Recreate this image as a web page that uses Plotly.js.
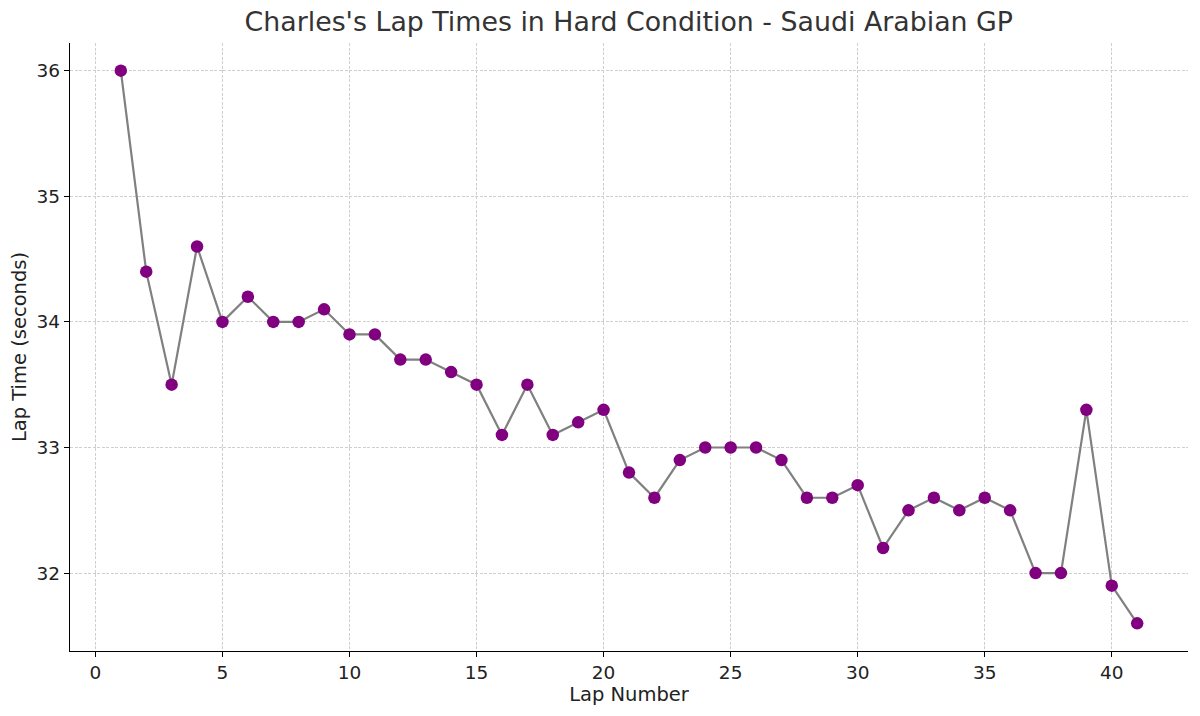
<!DOCTYPE html>
<html>
<head>
<meta charset="utf-8">
<script src="https://cdn.plot.ly/plotly-3.0.1.min.js"></script>
<style>html,body{margin:0;padding:0;background:#fff;}#chart{width:1200px;height:716px;}</style>
</head>
<body>
<div id="chart"></div>
<script>
const laps = [1,2,3,4,5,6,7,8,9,10,11,12,13,14,15,16,17,18,19,20,21,22,23,24,25,26,27,28,29,30,31,32,33,34,35,36,37,38,39,40,41];
const lapTimes = [36.0,34.4,33.5,34.6,34.0,34.2,34.0,34.0,34.1,33.9,33.9,33.7,33.7,33.6,33.5,33.1,33.5,33.1,33.2,33.3,32.8,32.6,32.9,33.0,33.0,33.0,32.9,32.6,32.6,32.7,32.2,32.5,32.6,32.5,32.6,32.5,32.0,32.0,33.3,31.9,31.6];
const xTicks = [0,5,10,15,20,25,30,35,40];
const yTicks = [32,33,34,35,36];

const font = "DejaVu Sans, sans-serif";
const trace = {
  x: laps, y: lapTimes, type: 'scatter', mode: 'lines+markers',
  line: {color: '#808080', width: 2.2},
  marker: {color: '#800080', size: 12.5}
};
const layout = {
  width: 1200, height: 716,
  margin: {l: 70, r: 12, t: 43, b: 65},
  paper_bgcolor: '#fff', plot_bgcolor: '#fff',
  font: {family: font, color: '#222'},
  title: {text: "Charles's Lap Times in Hard Condition - Saudi Arabian GP", font: {family: font, size: 26.8, color: '#333'}, x: 0.524, xanchor: 'center', y: 0.97, yanchor: 'middle'},
  xaxis: {
    range: [-1, 43], tickvals: xTicks, ticktext: xTicks.map(String),
    showline: true, linecolor: '#000', linewidth: 1.2, mirror: false,
    ticks: 'outside', ticklen: 5, tickcolor: '#000',
    showgrid: true, gridcolor: '#cfcfcf', griddash: '3px,1.5px', gridwidth: 1,
    zeroline: false, tickfont: {size: 18.5, color: '#222'},
    title: {text: 'Lap Number', font: {size: 19.5, color: '#222'}, standoff: 4}
  },
  yaxis: {
    range: [31.38, 36.22], tickvals: yTicks, ticktext: yTicks.map(String),
    showline: true, linecolor: '#000', linewidth: 1.2, mirror: false,
    ticks: 'outside', ticklen: 5, tickcolor: '#000',
    showgrid: true, gridcolor: '#cfcfcf', griddash: '3px,1.5px', gridwidth: 1,
    zeroline: false, tickfont: {size: 18.5, color: '#222'},
    title: {text: 'Lap Time (seconds)', font: {size: 19.5, color: '#222'}, standoff: 4}
  },
  showlegend: false
};
Plotly.newPlot('chart', [trace], layout, {displayModeBar: false, staticPlot: true});
</script>
</body>
</html>
